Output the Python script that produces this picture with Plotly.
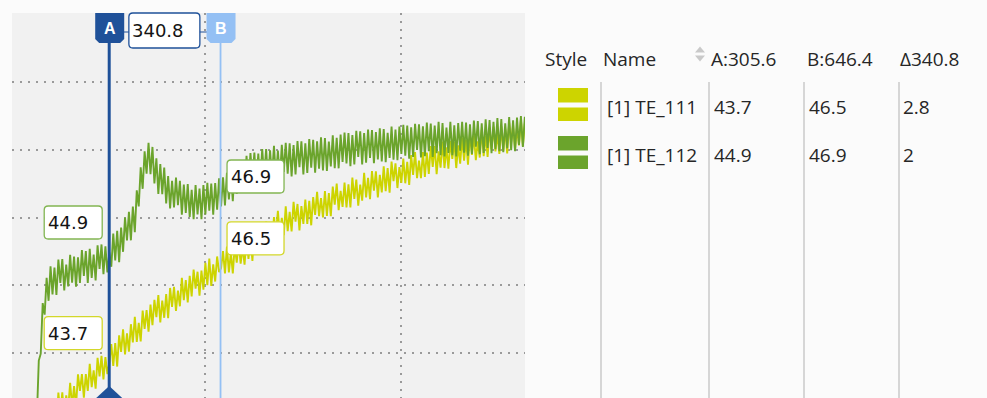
import numpy as np
import plotly.graph_objects as go

# logger sampling: first sample time and interval
T_START = 66.0
T_STEP = 6.0

# [1] TE_111 samples
te_111 = [
    41.90, 41.31, 41.91, 41.37, 42.22, 41.73, 42.28, 41.59, 42.14, 41.80,
    42.55, 41.91, 42.51, 41.92, 42.83, 42.23, 42.84, 42.10, 42.75, 42.36,
    43.12, 42.42, 43.02, 42.42, 43.37, 42.88, 43.38, 42.68, 43.38, 42.88,
    43.68, 42.99, 43.49, 42.95, 43.86, 43.31, 43.92, 43.22, 43.88, 43.38,
    43.70, 44.26, 43.62, 44.29, 43.60, 44.52, 44.03, 44.70, 43.96, 44.58,
    44.04, 44.85, 44.31, 45.07, 44.33, 44.89, 44.34, 45.25, 44.71, 45.27,
    44.63, 45.43, 44.82, 45.57, 45.06, 45.71, 44.90, 45.55, 45.04, 45.74,
    45.03, 45.92, 45.36, 45.95, 45.24, 45.84, 45.38, 46.22, 45.56, 46.15,
    45.49, 46.28, 45.67, 46.46, 45.90, 46.40, 45.69, 46.43, 45.87, 46.66,
    46.00, 46.79, 45.98, 46.62, 46.11, 46.85, 46.39, 46.50, 47.01, 46.35,
    47.14, 46.38, 46.96, 46.35, 47.18, 46.67, 47.30, 46.64, 47.12, 46.61,
    47.44, 46.78, 47.43, 46.72, 47.67, 47.11, 47.65, 46.95, 47.59, 47.09,
    47.88, 47.23, 47.82, 47.17, 48.01, 47.51, 48.20, 47.45, 47.99, 47.48,
    48.33, 47.60, 48.17, 47.59, 48.46, 47.88, 48.40, 47.62, 48.34, 47.81,
    48.53, 47.81, 48.49, 47.77, 48.60, 48.08, 48.76, 48.04, 48.57, 48.00,
    48.78, 48.05, 48.72, 48.04, 48.91, 48.38, 49.00, 48.22, 48.79, 48.31,
    49.03, 48.30, 48.98, 48.30, 49.18, 48.55, 49.12, 48.35, 48.97, 48.50,
    49.32, 48.59, 49.17, 48.54, 49.37, 48.79, 49.36, 48.59, 49.26, 48.74,
    49.51, 48.78, 49.46, 48.73, 49.65, 49.07, 49.60, 48.87, 49.49, 49.02,
    49.74, 49.01, 49.64, 48.96, 49.84, 49.26, 49.93, 49.16, 49.68, 49.16,
    49.93, 49.20, 49.92, 49.29, 50.11, 49.49, 50.11, 49.28, 49.95, 49.47,
    50.24, 49.46, 50.07, 49.44, 50.26, 49.73, 50.24, 49.46, 50.13, 49.59,
    50.36, 49.68, 50.30, 49.56, 50.48, 49.85, 50.42, 49.69, 50.25, 49.77,
    50.59, 49.81, 50.42, 49.79, 50.60, 50.02, 50.68, 49.95, 50.46, 49.88,
    50.69, 49.96, 50.62, 49.89, 50.80, 50.22, 50.73, 50.00, 50.66, 50.13,
    50.89, 50.11, 50.77,
]

# [1] TE_112 samples
te_112 = [
    37.60, 36.60, 38.10, 37.70, 40.20, 40.50, 42.70, 42.20, 43.80, 42.80,
    44.30, 43.08, 44.25, 43.05, 44.59, 43.58, 44.61, 43.25, 44.38, 43.42,
    44.80, 43.59, 44.72, 43.41, 44.69, 43.58, 45.01, 43.88, 44.96, 43.58,
    45.06, 43.79, 44.81, 43.69, 45.21, 44.19, 45.25, 43.96, 45.17, 44.03,
    44.90, 44.28, 45.72, 44.56, 45.84, 44.48, 45.98, 44.93, 46.42, 45.42,
    46.67, 45.43, 46.90, 45.78, 47.60, 46.90, 48.60, 47.67, 49.30, 48.33,
    49.67, 48.30, 49.49, 47.90, 49.00, 47.45, 48.75, 47.44, 48.59, 47.03,
    48.22, 46.82, 48.02, 46.86, 48.16, 46.96, 48.02, 46.54, 47.85, 46.62,
    47.88, 46.45, 47.63, 46.35, 47.83, 46.55, 47.68, 46.35, 47.83, 46.55,
    47.93, 46.72, 47.90, 46.54, 47.92, 46.76, 48.13, 46.90, 48.17, 46.95,
    48.37, 47.21, 48.39, 47.13, 48.66, 47.45, 48.87, 47.49, 48.76, 47.58,
    49.10, 47.83, 49.22, 48.10, 49.24, 47.82, 49.20, 47.92, 49.40, 48.17,
    49.40, 47.97, 49.34, 48.17, 49.54, 48.11, 49.33, 48.10, 49.58, 48.40,
    49.67, 48.33, 49.65, 48.21, 49.57, 48.29, 49.75, 48.61, 49.73, 48.29,
    49.65, 48.36, 49.83, 48.59, 49.80, 48.37, 49.73, 48.54, 49.91, 48.47,
    49.88, 48.45, 49.72, 48.64, 50.00, 48.57, 49.89, 48.56, 50.03, 48.84,
    50.11, 48.77, 50.09, 48.65, 50.01, 48.73, 50.19, 49.05, 50.17, 48.73,
    50.09, 48.80, 50.25, 49.01, 50.22, 48.78, 50.14, 48.95, 50.30, 48.86,
    50.27, 48.83, 50.10, 49.01, 50.38, 48.94, 50.25, 48.91, 50.38, 49.19,
    50.45, 49.11, 50.42, 48.98, 50.34, 49.05, 50.50, 49.36, 50.47, 49.03,
    50.39, 49.09, 50.55, 49.30, 50.51, 49.06, 50.42, 49.22, 50.58, 49.13,
    50.53, 49.08, 50.33, 49.23, 50.58, 49.13, 50.43, 49.08, 50.53, 49.33,
    50.58, 49.24, 50.55, 49.11, 50.47, 49.18, 50.64, 49.50, 50.61, 49.17,
    50.52, 49.23, 50.69, 49.45, 50.66, 49.22, 50.58, 49.39, 50.75, 49.30,
    50.70, 49.26, 50.52, 49.43, 50.79, 49.35, 50.65, 49.31, 50.77, 49.58,
    50.83, 49.49, 50.80,
]

channel_names = ["[1] TE_111", "[1] TE_112"]
channel_colors = ["#cdd400", "#6ba42c"]
box_borders = ["#d3d72a", "#82b552"]

cursor_a = 305.6
cursor_b = 646.4

grid_x = [600, 1200]
grid_y = [44, 46, 48, 50, 52]

time = T_START + T_STEP * np.arange(len(te_111))


def sample_at(series, t):
    return series[int(np.argmin(np.abs(time - t)))]


def fmt(v):
    return f"{round(v, 1):g}"


series = [te_111, te_112]
axes = ["y", "y2"]
vals_a = [sample_at(s, cursor_a) for s in series]
vals_b = [sample_at(s, cursor_b) for s in series]

A_COL = "#1f5199"
B_COL = "#94c0f4"

fig = go.Figure()
for s, name, col, ax in zip(series, channel_names, channel_colors, axes):
    fig.add_trace(go.Scatter(x=time, y=s, mode="lines", name=name, yaxis=ax,
                             line=dict(color=col, width=1.9), hoverinfo="skip"))

# ---- plot-area pixel box (figure is 987 x 398)
L, R, T, B = 12, 525, 13, 398
W, H = R - L, B - T


def px(x):
    return (x - L) / W


def py(y):
    return (B - y) / H


def rrect(x0, x1, y0, y1, r=4):
    return (f"M{x0 + r},{y0} L{x1 - r},{y0} Q{x1},{y0} {x1},{y0 + r} "
            f"L{x1},{y1 - r} Q{x1},{y1} {x1 - r},{y1} L{x0 + r},{y1} "
            f"Q{x0},{y1} {x0},{y1 - r} L{x0},{y0 + r} Q{x0},{y0} {x0 + r},{y0} Z")


def pix_shape(path, xref, xanchor, yref, yanchor, fill, line_col=None, line_w=0):
    return dict(type="path", path=path, xref=xref, xsizemode="pixel", xanchor=xanchor,
                yref=yref, ysizemode="pixel", yanchor=yanchor, fillcolor=fill,
                line=dict(color=line_col or fill, width=line_w))


shapes = []
annotations = []

# cursor lines
shapes.append(dict(type="line", xref="x", x0=cursor_b, x1=cursor_b, yref="paper", y0=0, y1=1,
                   line=dict(color=B_COL, width=1.8)))
shapes.append(dict(type="line", xref="x", x0=cursor_a, x1=cursor_a, yref="paper", y0=0, y1=1,
                   line=dict(color=A_COL, width=3)))

# connector between cursor tabs
shapes.append(dict(type="line", xref="x", x0=cursor_a, x1=cursor_b, yref="paper",
                   ysizemode="pixel", yanchor=1, y0=-19, y1=-19,
                   line=dict(color=A_COL, width=1.2)))

tab = "M-14,0 L15,0 L15,-26 L11,-30 L-10,-30 L-14,-26 Z"
shapes.append(pix_shape(tab, "x", cursor_a, "paper", 1, A_COL))
shapes.append(pix_shape(tab, "x", cursor_b, "paper", 1, B_COL))
shapes.append(pix_shape("M-13,0 L0,12 L13,0 L0,-12 Z", "x", cursor_a, "paper", 0, A_COL))

for lab, cx in (("A", cursor_a), ("B", cursor_b)):
    annotations.append(dict(x=cx, xref="x", y=1, yref="paper", xshift=0.5, yshift=-15,
                            text=f"<b>{lab}</b>", showarrow=False, xanchor="center",
                            yanchor="middle", font=dict(family="Liberation Sans", size=16,
                                                        color="white")))

# delta box
mid = (cursor_a + cursor_b) / 2
shapes.append(pix_shape(rrect(-36, 35, -35, 0, 4), "x", mid, "paper", 1, "white", A_COL, 1.3))
annotations.append(dict(x=mid, xref="x", y=1, yref="paper", xshift=-35, yshift=-17.5,
                        text=fmt(cursor_b - cursor_a), showarrow=False, xanchor="left",
                        yanchor="middle", font=dict(family="DejaVu Sans", size=18, color="#141414")))

# value boxes at each cursor
for i in range(2):
    for cx, v, x0, x1 in ((cursor_a, vals_a[i], -65, -7), (cursor_b, vals_b[i], 6.5, 63.5)):
        shapes.append(pix_shape(rrect(x0, x1, 13.5, 46.5, 4), "x", cx, axes[i], v,
                                "white", box_borders[i], 1.3))
        annotations.append(dict(x=cx, xref="x", y=v, yref=axes[i], xshift=x0 + 2, yshift=30,
                                text=fmt(v), showarrow=False, xanchor="left", yanchor="middle",
                                font=dict(family="DejaVu Sans", size=18, color="#141414")))

# ---- channel table
TXT = dict(family="Open Sans", size=19, color="#262626")


def cell(text, x, y):
    annotations.append(dict(x=px(x - 2), xref="paper", y=py(y), yref="paper", text=text,
                            showarrow=False, xanchor="left", yanchor="middle", font=TXT))


for x in (601, 709, 804, 899):
    shapes.append(dict(type="line", xref="paper", yref="paper", x0=px(x), x1=px(x),
                       y0=py(82), y1=py(398), line=dict(color="#d6d6d6", width=2)))

cell("Style", 545, 59)
cell("Name", 603, 59)
cell(f"A:{cursor_a:g}", 711, 59)
cell(f"B:{cursor_b:g}", 807, 59)
cell(f"Δ{fmt(cursor_b - cursor_a)}", 900, 59)

shapes.append(pix_shape("M-5,-3 L5,-3 L0,3 Z", "paper", px(700), "paper", py(49.5), "#c9c9c9"))
shapes.append(pix_shape("M-5,3 L5,3 L0,-3 Z", "paper", px(700), "paper", py(58.5), "#c9c9c9"))

for i, yc in enumerate((107, 155)):
    col = channel_colors[i]
    for y0, y1 in ((yc - 19, yc - 4.5), (yc + 0.5, yc + 14)):
        shapes.append(dict(type="rect", xref="paper", yref="paper", x0=px(558), x1=px(588),
                           y0=py(y1), y1=py(y0), fillcolor=col, line=dict(width=0)))
    cell(channel_names[i], 607, yc)
    cell(fmt(vals_a[i]), 714, yc)
    cell(fmt(vals_b[i]), 809, yc)
    cell(fmt(vals_b[i] - vals_a[i]), 903, yc)

grid = dict(showgrid=True, gridcolor="#9a9a9a", gridwidth=2, griddash="2px,6px",
            showticklabels=False, ticks="", zeroline=False, showline=False, fixedrange=True)

fig.update_layout(
    width=987, height=398,
    margin=dict(l=L, r=987 - R, t=T, b=0),
    paper_bgcolor="#fbfbfb", plot_bgcolor="#f1f1f1",
    showlegend=False,
    xaxis=dict(range=[8, 1578.5], tickvals=grid_x, **grid),
    yaxis=dict(range=[42.672, 54.037], tickvals=grid_y, **grid),
    yaxis2=dict(range=[38.574, 55.313], overlaying="y", side="right", showgrid=False,
                showticklabels=False, ticks="", zeroline=False, showline=False),
    shapes=shapes,
    annotations=annotations,
)

fig.write_html("out.html")
